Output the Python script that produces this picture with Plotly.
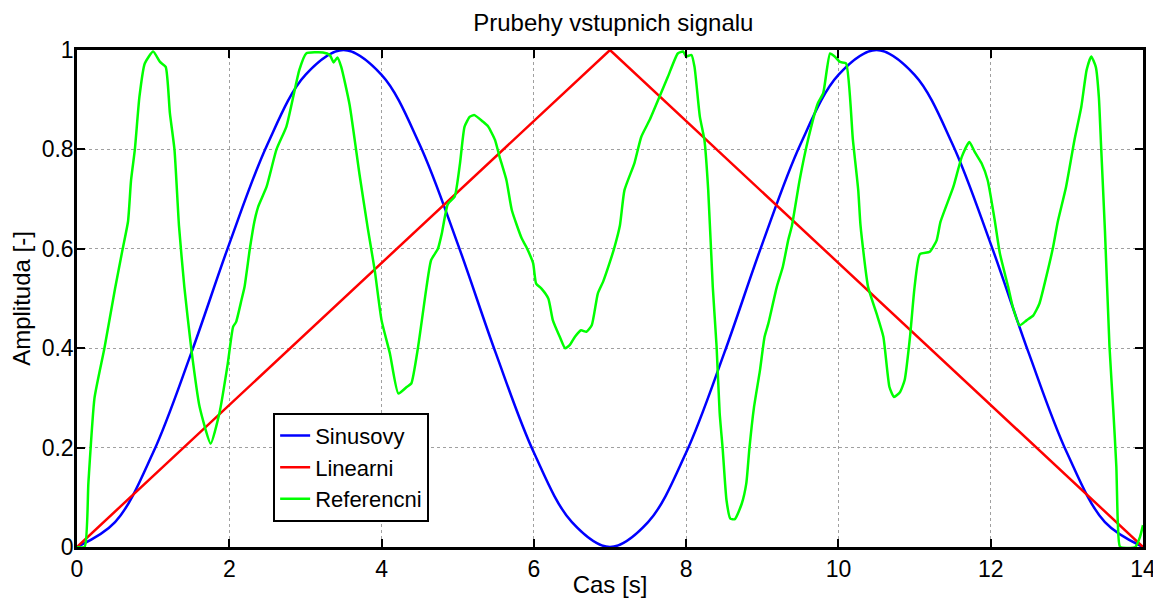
import plotly.graph_objects as go

# ------------------------------------------------------------
# DATA
# ------------------------------------------------------------

# blue sine-like signal
sin_t = [0, 0.5, 1.0, 1.5, 2.0, 2.5, 3.0, 3.5, 4.0, 4.5, 5.0, 5.5, 6.0, 6.5, 7.0,
         7.5, 8.0, 8.5, 9.0, 9.5, 10.0, 10.5, 11.0, 11.5, 12.0, 12.5, 13.0, 13.5, 14.0]
sin_v = [0, 0.05, 0.19, 0.39, 0.61, 0.81, 0.95, 1.0, 0.95, 0.81, 0.61, 0.39, 0.19, 0.05, 0,
         0.05, 0.19, 0.39, 0.61, 0.81, 0.95, 1.0, 0.95, 0.81, 0.61, 0.39, 0.19, 0.05, 0]

# red triangle signal
lin_t = [0, 7, 14]
lin_v = [0, 1, 0]

# green reference signal
ref_t = [0, 0.10, 0.15, 0.23, 0.36, 0.50, 0.60, 0.67, 0.71, 0.76, 0.82, 0.89, 1.00, 1.09,
         1.165, 1.22, 1.28, 1.34, 1.41, 1.50, 1.61, 1.756, 1.87, 1.98, 2.05, 2.09, 2.16, 2.20,
         2.27, 2.33, 2.38, 2.49, 2.62, 2.75, 2.84, 2.92, 3.01, 3.23, 3.32, 3.37, 3.42, 3.47,
         3.58, 3.71, 3.82, 3.91, 4.00, 4.11, 4.22, 4.33, 4.39, 4.48, 4.59, 4.65, 4.74, 4.79,
         4.87, 4.96, 5.03, 5.09, 5.16, 5.22, 5.33, 5.40, 5.49, 5.55, 5.64, 5.71, 5.84, 5.90,
         5.99, 6.03, 6.10, 6.19, 6.25, 6.34, 6.41, 6.47, 6.54, 6.62, 6.69, 6.76, 6.84, 6.91,
         7.00, 7.06, 7.13, 7.19, 7.32, 7.41, 7.52, 7.65, 7.76, 7.89, 7.96, 8.00, 8.07, 8.11,
         8.18, 8.24, 8.29, 8.35, 8.40, 8.44, 8.48, 8.53, 8.58, 8.64, 8.73, 8.79, 8.83, 8.89,
         8.97, 9.03, 9.08, 9.19, 9.27, 9.34, 9.39, 9.49, 9.60, 9.73, 9.80, 9.89, 9.95, 10.02,
         10.10, 10.19, 10.26, 10.29, 10.39, 10.50, 10.59, 10.67, 10.73, 10.81, 10.87, 10.94,
         11.00, 11.07, 11.20, 11.29, 11.34, 11.51, 11.62, 11.72, 11.79, 11.88, 11.96, 12.05,
         12.12, 12.23, 12.29, 12.38, 12.47, 12.56, 12.64, 12.73, 12.82, 12.88, 12.99, 13.10,
         13.19, 13.26, 13.32, 13.38, 13.42, 13.45, 13.50, 13.56, 13.61, 13.65, 13.67, 13.70,
         13.90, 13.96, 14.00]
ref_v = [0, 0, 0.13, 0.30, 0.40, 0.52, 0.60, 0.655, 0.738, 0.80, 0.906, 0.973, 0.997, 0.976,
         0.966, 0.873, 0.80, 0.645, 0.523, 0.40, 0.282, 0.208, 0.269, 0.369, 0.443, 0.453, 0.497, 0.523,
         0.60, 0.655, 0.685, 0.725, 0.80, 0.846, 0.906, 0.96, 0.993, 0.995, 0.99, 0.975, 0.985, 0.966,
         0.89, 0.75, 0.64, 0.557, 0.456, 0.389, 0.309, 0.322, 0.329, 0.403, 0.523, 0.577, 0.60, 0.63,
         0.69, 0.705, 0.772, 0.846, 0.866, 0.869, 0.856, 0.846, 0.819, 0.785, 0.738, 0.678, 0.621, 0.604,
         0.571, 0.530, 0.520, 0.50, 0.456, 0.423, 0.40, 0.406, 0.423, 0.436, 0.433, 0.446, 0.51, 0.534,
         0.574, 0.604, 0.647, 0.718, 0.772, 0.825, 0.859, 0.906, 0.946, 0.993, 0.997, 0.987, 0.99, 0.966,
         0.866, 0.819, 0.718, 0.523, 0.403, 0.27, 0.197, 0.094, 0.057, 0.056, 0.087, 0.128, 0.197, 0.28,
         0.356, 0.423, 0.45, 0.523, 0.564, 0.617, 0.647, 0.738, 0.819, 0.893, 0.913, 0.993, 0.987, 0.976,
         0.973, 0.819, 0.718, 0.647, 0.523, 0.47, 0.423, 0.322, 0.302, 0.312, 0.336, 0.423,
         0.523, 0.589, 0.594, 0.617, 0.654, 0.725, 0.785, 0.815, 0.795, 0.772, 0.738, 0.66,
         0.591, 0.523, 0.483, 0.446, 0.456, 0.466, 0.49, 0.544, 0.604, 0.654, 0.725, 0.819,
         0.886, 0.96, 0.987, 0.966, 0.906, 0.805, 0.637, 0.403, 0.275, 0.161, 0.047, 0,
         0, 0.02, 0.044]

x_ticks = [0, 2, 4, 6, 8, 10, 12, 14]
y_ticks = [0, 0.2, 0.4, 0.6, 0.8, 1]

FONT = "Arial, Liberation Sans, sans-serif"

fig = go.Figure()

fig.add_trace(go.Scatter(x=sin_t, y=sin_v, mode="lines", name="Sinusovy",
                         line=dict(color="#0000ff", width=2.5, shape="spline")))
fig.add_trace(go.Scatter(x=lin_t, y=lin_v, mode="lines", name="Linearni",
                         line=dict(color="#ff0000", width=2.5)))
fig.add_trace(go.Scatter(x=ref_t, y=ref_v, mode="lines", name="Referencni",
                         line=dict(color="#00ff00", width=2.5, shape="spline", smoothing=0.5)))

axis_style = dict(
    showline=True, linecolor="black", linewidth=2.5, mirror="ticks",
    ticks="inside", ticklen=8, tickwidth=2, tickcolor="black",
    showgrid=True, gridcolor="#a0a0a0", griddash="dot", gridwidth=1,
    zeroline=False, automargin=False,
    tickfont=dict(size=23, color="black", family=FONT),
)

fig.update_xaxes(range=[0, 14], tickvals=x_ticks,
                 title=dict(text="Cas [s]", font=dict(size=24, family=FONT), standoff=0),
                 **axis_style)
fig.update_yaxes(range=[0, 1], tickvals=y_ticks, ticklabelstandoff=-4,
                 title=dict(text="Amplituda [-]", font=dict(size=24, family=FONT), standoff=10),
                 **axis_style)

# the page body adds an 8px offset, so the figure is sized to fit the window
fig.update_layout(
    width=1153, height=590,
    margin=dict(l=69, r=18, t=42, b=51),
    paper_bgcolor="white", plot_bgcolor="white",
    title=dict(text="Prubehy vstupnich signalu", x=0.525, xanchor="center",
               y=0.975, yanchor="middle", font=dict(size=24, color="black", family=FONT)),
    font=dict(family=FONT, color="black"),
    legend=dict(x=0.184, y=0.27, xanchor="left", yanchor="top",
                bgcolor="white", bordercolor="black", borderwidth=2,
                font=dict(size=22, family=FONT), itemwidth=30, tracegroupgap=0),
    showlegend=True,
)

fig.write_html("out.html")
